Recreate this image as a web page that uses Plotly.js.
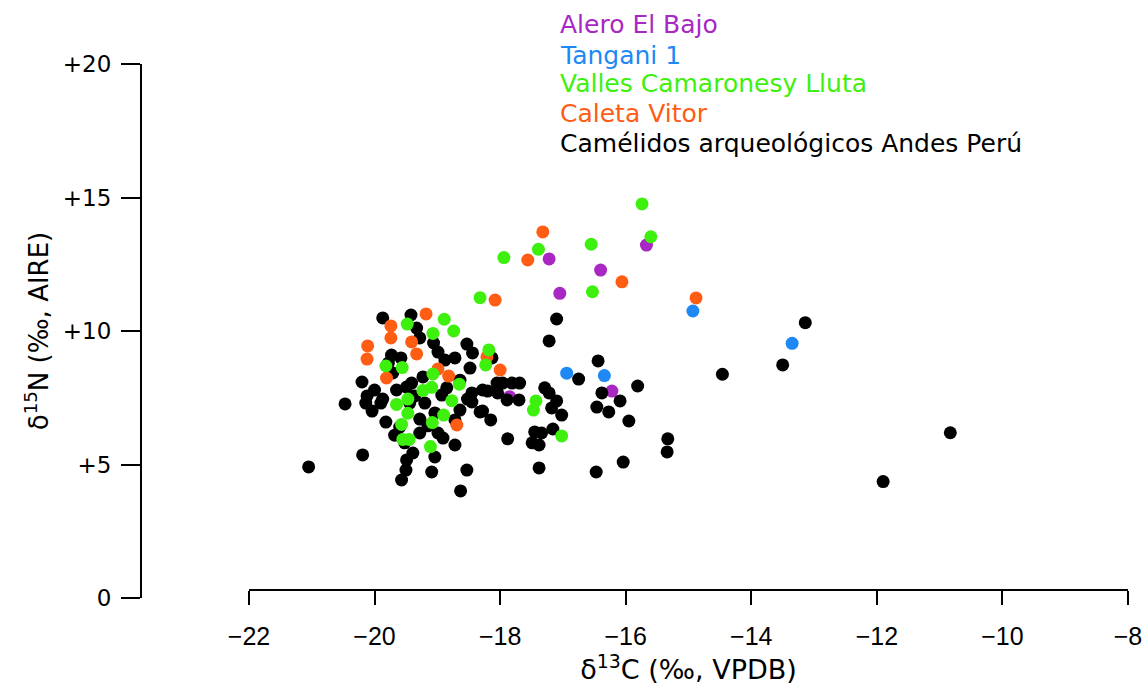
<!DOCTYPE html>
<html>
<head>
<meta charset="utf-8">
<script src="https://cdn.plot.ly/plotly-3.0.1.min.js"></script>
<style>html,body{margin:0;padding:0;background:#fff;}#chart{width:1143px;height:686px;}</style>
</head>
<body>
<div id="chart"></div>
<script>
// Series names
const seriesNames = ["Alero El Bajo", "Tangani 1", "Valles Camaronesy Lluta", "Caleta Vitor", "Camélidos arqueológicos Andes Perú"];

// Alero El Bajo
const aleroX = [-17.22, -16.40, -17.05, -15.67, -16.22, -17.85];
const aleroY = [12.70, 12.28, 11.41, 13.22, 7.75, 7.54];

// Tangani 1
const tanganiX = [-14.93, -16.94, -16.34, -13.35];
const tanganiY = [10.75, 8.42, 8.33, 9.54];

// Valles Camarones y Lluta
const vallesX = [-15.74, -15.60, -16.55, -17.39, -17.94, -16.53, -18.32, -18.18, -18.23, -17.43, -17.47, -17.02,
  -19.48, -19.82, -19.56, -19.65, -19.47, -19.47, -19.57, -19.55, -19.45, -18.89, -18.74, -19.07, -19.07,
  -18.65, -19.09, -19.23, -18.77, -18.90, -19.08, -19.11];
const vallesY = [14.76, 13.53, 13.25, 13.06, 12.75, 11.47, 11.25, 9.29, 8.73, 7.38, 7.04, 6.07,
  10.26, 8.69, 8.63, 7.25, 7.45, 6.92, 6.50, 5.94, 5.94, 10.44, 10.00, 9.91, 8.39,
  8.01, 7.89, 7.77, 7.39, 6.85, 6.57, 5.67];

// Caleta Vitor
const caletaX = [-17.32, -17.56, -16.06, -14.88, -18.08, -18.00, -18.21, -19.74, -19.74, -20.11, -20.12,
  -19.81, -19.41, -19.33, -19.18, -18.99, -18.82, -18.69];
const caletaY = [13.71, 12.66, 11.84, 11.24, 11.16, 8.54, 9.03, 10.19, 9.74, 9.44, 8.95,
  8.24, 9.59, 9.14, 10.64, 8.58, 8.31, 6.48];

// Camélidos arqueológicos Andes Perú
const camelX = [-21.05, -20.47, -20.20, -20.19, -20.12, -20.04, -20.00, -19.87, -19.87, -19.82, -19.68,
  -19.73, -19.58, -19.78, -19.71, -19.65, -19.49, -19.42, -19.33, -19.28, -19.06, -18.99, -18.88, -18.72,
  -18.53, -18.44, -18.48, -18.64, -18.45, -18.52, -19.23, -19.41, -19.36, -18.93, -18.85, -19.44, -19.20,
  -19.04, -19.28, -18.99, -18.91, -19.52, -19.39, -19.04, -19.09, -19.49, -19.50, -19.57, -18.53, -18.63,
  -18.45, -18.32, -18.28, -18.20, -18.05, -17.96, -17.81, -17.69, -18.04, -17.89, -17.70, -18.28, -18.15,
  -17.88, -17.29, -17.22, -17.10, -17.18, -17.02, -17.16, -17.34, -17.45, -17.49, -17.38, -17.38, -17.10,
  -17.22, -16.44, -16.75, -15.81, -16.38, -16.09, -16.46, -16.27, -15.95, -15.33, -15.34, -16.04, -16.47,
  -18.13, -14.46, -13.50, -13.14, -10.83, -11.90, -20.14, -19.90, -19.28, -18.72, -18.64, -18.72, -19.60, -19.15];
const camelY = [4.91, 7.27, 8.09, 5.36, 7.57, 7.00, 7.79, 10.49, 7.45, 6.59, 6.10,
  9.10, 8.99, 8.80, 8.43, 7.79, 7.90, 10.60, 10.11, 9.74, 9.55, 9.21, 8.91, 8.99,
  9.51, 9.18, 8.61, 8.16, 7.68, 7.45, 8.28, 8.05, 7.57, 7.60, 7.87, 7.30, 7.30,
  6.93, 6.18, 6.18, 5.99, 5.81, 5.43, 5.28, 4.72, 5.17, 4.79, 4.42, 4.79, 4.01,
  7.34, 6.97, 7.79, 7.75, 8.05, 8.05, 8.05, 8.05, 7.68, 7.42, 7.42, 7.00, 6.67,
  5.96, 7.87, 7.68, 7.38, 7.12, 6.85, 6.33, 6.18, 6.22, 5.81, 5.73, 4.87, 10.45,
  9.63, 8.88, 8.20, 7.94, 7.68, 7.38, 7.15, 6.97, 6.63, 5.96, 5.47, 5.09, 4.72,
  8.99, 8.38, 8.73, 10.31, 6.19, 4.36, 7.30, 7.30, 6.70, 6.67, 7.04, 5.73, 6.40, 6.45];

// Axis ticks
const xTickVals = [-22, -20, -18, -16, -14, -12, -10, -8];
const yTickVals = [0, 5, 10, 15, 20];
const yTickText = ["0", "+5", "+10", "+15", "+20"];

const colors = {
  alero: "#A928C4",
  tangani: "#1E88F5",
  valles: "#3EF00E",
  caleta: "#FF5C14",
  camel: "#000000"
};

const FONT = "DejaVu Sans, Liberation Sans, Arial, sans-serif";
const XTICKFONT = "Liberation Sans, Arial, sans-serif";
const MS = 13;

function tr(name, x, y, color) {
  return {type: "scatter", mode: "markers", name: name, x: x, y: y,
    marker: {color: color, size: MS, line: {width: 0}}, showlegend: false, hoverinfo: "x+y+name", cliponaxis: false};
}

const data = [
  tr(seriesNames[0], aleroX, aleroY, colors.alero),
  tr(seriesNames[4], camelX, camelY, colors.camel),
  tr(seriesNames[3], caletaX, caletaY, colors.caleta),
  tr(seriesNames[1], tanganiX, tanganiY, colors.tangani),
  tr(seriesNames[2], vallesX, vallesY, colors.valles)
];

const L = 141, R = 15, T = 64, B = 88;
const plotW = 1143 - L - R, plotH = 686 - T - B;

const legendColors = [colors.alero, colors.tangani, colors.valles, colors.caleta, colors.camel];
const legendPixY = [25, 55, 84, 113, 143];
const annotations = seriesNames.map((n, i) => ({
  xref: "paper", yref: "paper",
  x: (558 - L) / plotW, y: (686 - B - legendPixY[i]) / plotH,
  xanchor: "left", yanchor: "middle", showarrow: false,
  text: n, font: {family: FONT, size: 25, color: legendColors[i]}
}));

const layout = {
  width: 1143, height: 686,
  margin: {l: L, r: R, t: T, b: B, pad: 0},
  paper_bgcolor: "#fff", plot_bgcolor: "#fff",
  showlegend: false,
  font: {family: FONT, color: "#000"},
  xaxis: {
    domain: [(249 - L) / plotW, 1],
    range: [-22, -8],
    anchor: "free", position: 8 / plotH,
    tickvals: xTickVals,
    ticks: "outside", ticklen: 14, tickwidth: 2, tickcolor: "#000",
    showline: true, linecolor: "#000", linewidth: 2,
    showgrid: false, zeroline: false,
    tickfont: {family: XTICKFONT, size: 25, color: "#000"},
    ticklabelstandoff: 10,
    ticklabeloverflow: "allow",
    title: {text: "δ<sup>13</sup>C (‰, VPDB)", font: {family: FONT, size: 27, color: "#000"}, standoff: 5},
    automargin: false
  },
  yaxis: {
    range: [0, 20],
    anchor: "free", position: 0,
    tickvals: yTickVals, ticktext: yTickText,
    ticks: "outside", ticklen: 19, tickwidth: 2, tickcolor: "#000",
    showline: true, linecolor: "#000", linewidth: 2,
    showgrid: false, zeroline: false,
    tickfont: {family: FONT, size: 23, color: "#000"},
    ticklabelstandoff: 5,
    ticklabeloverflow: "allow",
    title: {text: "δ<sup>15</sup>N (‰, AIRE)", font: {family: FONT, size: 26, color: "#000"}, standoff: 6},
    automargin: false
  },
  annotations: annotations
};

Plotly.newPlot("chart", data, layout, {staticPlot: true, displayModeBar: false});
</script>
</body>
</html>
